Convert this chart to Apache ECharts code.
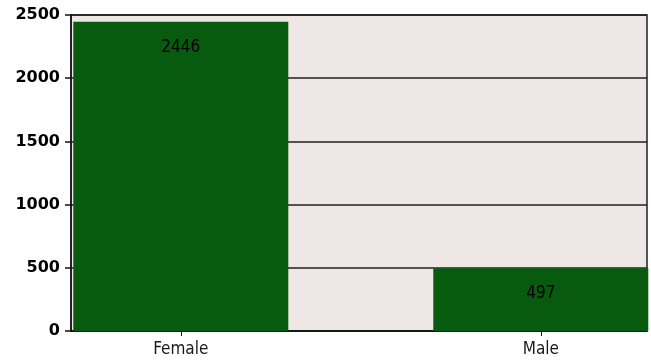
<!DOCTYPE html>
<html>
<head>
<meta charset="utf-8">
<script src="https://cdn.jsdelivr.net/npm/echarts@6/dist/echarts.min.js"></script>
<style>
  html, body { margin: 0; padding: 0; background: #ffffff; }
  #chart { width: 651px; height: 360px; }
</style>
</head>
<body>
<div id="chart"></div>
<script>
// Gender counts
const categories = ['Female', 'Male'];
const counts = [2446, 497];
const yTicks = [0, 500, 1000, 1500, 2000, 2500];

const chart = echarts.init(document.getElementById('chart'), null, { renderer: 'canvas' });

const textFont = '"DejaVu Sans Condensed", "DejaVu Sans", sans-serif';

// Bars sit on a numeric x axis (one unit per category) so they can span
// almost edge to edge while staying centred on their tick.
const catPositions = categories.map((c, i) => i);
const barData = counts.map((v, i) => [catPositions[i], v]);

chart.setOption({
  animation: false,
  backgroundColor: '#ffffff',
  grid: {
    left: 71, right: 4, top: 15, bottom: 29,
    show: true,
    backgroundColor: '#efe7e5',
    borderColor: '#1f1f1f',
    borderWidth: 1.5
  },
  xAxis: {
    type: 'value',
    position: 'bottom',
    min: -0.305,
    max: 1.295,
    splitLine: { show: false },
    axisLine: { show: true, onZero: false, lineStyle: { color: '#111', width: 1.5 } },
    axisTick: {
      show: true, inside: false, length: 5, lineStyle: { color: '#111' },
      customValues: catPositions
    },
    axisLabel: {
      customValues: catPositions,
      formatter: v => categories[Math.round(v)],
      fontFamily: textFont,
      fontSize: 17,
      color: '#1a1a1a',
      margin: 10
    }
  },
  yAxis: {
    type: 'value',
    position: 'left',
    min: yTicks[0],
    max: yTicks[yTicks.length - 1],
    interval: 500,
    axisLine: { show: true, onZero: false, lineStyle: { color: '#111', width: 1.5 } },
    axisTick: { show: true, length: 6, lineStyle: { color: '#111', width: 1.5 } },
    axisLabel: {
      formatter: v => String(v),
      fontFamily: 'DejaVu Sans',
      fontWeight: 'bold',
      fontSize: 16,
      color: '#000',
      margin: 11
    },
    splitLine: { show: true, lineStyle: { color: '#1f1f1f', width: 1.5 } }
  },
  series: [{
    type: 'bar',
    data: barData,
    barWidth: 215,
    itemStyle: { color: '#085a0e' },
    label: {
      show: true,
      position: 'insideTop',
      distance: 17,
      formatter: p => p.value[1],
      fontFamily: textFont,
      fontSize: 17,
      color: '#000'
    }
  }]
});
</script>
</body>
</html>
